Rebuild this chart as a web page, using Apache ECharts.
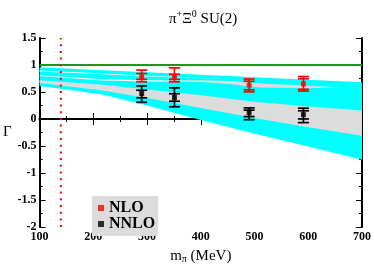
<!DOCTYPE html>
<html><head><meta charset="utf-8">
<script src="https://cdn.jsdelivr.net/npm/echarts@6/dist/echarts.min.js"></script>
<style>html,body{margin:0;padding:0;background:#fff}#c{width:374px;height:269px}</style>
</head><body><div id="c"></div>
<script>
// ---- data ----
const xTicks = [100, 200, 300, 400, 500, 600, 700];
const yTicks = [-2, -1.5, -1, -0.5, 0, 0.5, 1, 1.5];

const mPi = [290, 351, 490, 591];
// NLO (red)
const nloVal     = [0.78, 0.79, 0.628, 0.651];
const nloOuterHi = [0.906, 0.948, 0.74, 0.787];
const nloOuterLo = [0.69, 0.689, 0.504, 0.518];
const nloInnerHi = [0.842, 0.829, 0.70, 0.745];
const nloInnerLo = [0.735, 0.735, 0.54, 0.55];
// NNLO (black)
const nnloVal     = [0.471, 0.40, 0.117, 0.082];
const nnloOuterHi = [0.613, 0.577, 0.206, 0.201];
const nnloOuterLo = [0.31, 0.227, -0.012, -0.066];
const nnloInnerHi = [0.533, 0.468, 0.165, 0.153];
const nnloInnerLo = [0.393, 0.33, 0.046, 0.002];

// error bands
const bandX      = [100, 217, 300, 400, 500, 600, 700];
const cyanTop    = [0.96, 0.905, 0.866, 0.82, 0.773, 0.727, 0.68];
const cyanBottom = [0.61, 0.455, 0.25, -0.02, -0.27, -0.51, -0.755];
const greyTop    = [0.72, 0.635, 0.545, 0.44, 0.32, 0.23, 0.16];
const greyBottom = [0.665, 0.53, 0.39, 0.205, 0.02, -0.15, -0.31];
const gap1X      = [100, 217, 310, 440];
const gap1Top    = [0.90, 0.842, 0.795, 0.745];
const gap1Bottom = [0.882, 0.828, 0.783, 0.745];
const gap2X      = [100, 217, 300, 330];
const gap2Top    = [0.81, 0.735, 0.72, 0.718];
const gap2Bottom = [0.795, 0.715, 0.695, 0.69];
const sliverX      = [330, 400, 456, 511, 601, 663];
const sliverTop    = [0.718, 0.72, 0.705, 0.66, 0.615, 0.585];
const sliverBottom = [0.69, 0.685, 0.645, 0.585, 0.57, 0.585];

const physMpi = 139.57;
const unitLine = 1;

// ---- chart ----
const CYAN = '#00ffff', GREY = '#dcdcdc', RED = '#ff0000';
const SERIF = 'Liberation Serif';

function bandSeries(xs, top, bot, color, z) {
  return {
    type: 'custom', silent: true, z: z, clip: true,
    data: [[xs[0], top[0]]],
    renderItem: function (params, api) {
      const pts = [];
      for (let i = 0; i < xs.length; i++) pts.push(api.coord([xs[i], top[i]]));
      for (let i = xs.length - 1; i >= 0; i--) pts.push(api.coord([xs[i], bot[i]]));
      return { type: 'polygon', shape: { points: pts }, style: { fill: color } };
    }
  };
}

function errSeries(color, oLo, oHi, iLo, iHi) {
  return {
    type: 'custom', silent: true, z: 5,
    data: mPi.map((m, i) => [m, oLo[i], oHi[i], iLo[i], iHi[i]]),
    encode: { x: 0, y: [1, 2, 3, 4] },
    renderItem: function (params, api) {
      const x = api.value(0);
      const a = api.coord([x, api.value(1)]);
      const b = api.coord([x, api.value(2)]);
      const c = api.coord([x, api.value(3)]);
      const d = api.coord([x, api.value(4)]);
      const hw = 5.5, st = { stroke: color, lineWidth: 1.7 };
      const cap = p => ({ type: 'line', shape: { x1: p[0] - hw, y1: p[1], x2: p[0] + hw, y2: p[1] }, style: st });
      return {
        type: 'group', children: [
          { type: 'line', shape: { x1: a[0], y1: a[1], x2: b[0], y2: b[1] }, style: st },
          cap(a), cap(b), cap(c), cap(d)
        ]
      };
    }
  };
}

const chart = echarts.init(document.getElementById('c'), null, { renderer: 'canvas' });
const axisLabelStyle = { fontFamily: SERIF, fontWeight: 'bold', fontSize: 12, color: '#000' };
chart.setOption({
  animation: false,
  backgroundColor: '#fff',
  title: {
    text: '{a|π}{s|+}{a|Ξ}{s|0}{a| SU(2)}',
    left: 164, top: 4,
    textStyle: {
      fontWeight: 'normal',
      rich: {
        a: { fontFamily: SERIF, fontWeight: 'normal', fontSize: 15, color: '#000', lineHeight: 18, verticalAlign: 'bottom' },
        s: { fontFamily: SERIF, fontWeight: 'normal', fontSize: 10, color: '#000', lineHeight: 18, verticalAlign: 'top', padding: [0, 0, 6, 0] }
      }
    }
  },
  legend: {
    data: [{ name: 'NLO', itemStyle: { color: RED } }, { name: 'NNLO', itemStyle: { color: '#000' } }],
    orient: 'vertical', left: 92, top: 196,
    backgroundColor: GREY, padding: [4, 3, 4, 6],
    itemWidth: 6, itemHeight: 6, itemGap: 0, icon: 'rect',
    textStyle: { fontFamily: SERIF, fontWeight: 'bold', fontSize: 16, color: '#000', lineHeight: 14 }
  },
  grid: { left: 36, right: 11, top: 38, bottom: 34 },
  xAxis: [{
    type: 'value', min: xTicks[0], max: xTicks[xTicks.length - 1], interval: 100,
    name: '{a|m}{s|π}{a| (MeV)}', nameLocation: 'middle', nameGap: 14,
    nameTextStyle: {
      rich: {
        a: { fontFamily: SERIF, fontSize: 15, color: '#000', lineHeight: 16 },
        s: { fontFamily: SERIF, fontSize: 10, color: '#000', lineHeight: 16, verticalAlign: 'bottom', padding: [6, 0, 0, 0] }
      }
    },
    axisLine: { lineStyle: { color: '#000', width: 2 } },
    axisTick: { inside: true, length: 6, lineStyle: { color: '#000', width: 1 } },
    minorTick: { show: true, splitNumber: 2, length: 3, lineStyle: { color: '#000', width: 1 } },
    axisLabel: Object.assign({ margin: 4, formatter: v => xTicks.includes(v) ? String(v) : '' }, axisLabelStyle),
    splitLine: { show: false }
  }, {
    type: 'value', position: 'top', min: xTicks[0], max: xTicks[xTicks.length - 1], interval: 100,
    axisLine: { lineStyle: { color: '#000', width: 2 } },
    axisTick: { inside: true, length: 6, lineStyle: { color: '#000', width: 1 } },
    minorTick: { show: true, splitNumber: 2, length: 3, lineStyle: { color: '#000', width: 1 } },
    axisLabel: { show: false }, splitLine: { show: false }
  }],
  yAxis: [{
    type: 'value', min: yTicks[0], max: yTicks[yTicks.length - 1], interval: 0.5,
    name: 'Γ', nameLocation: 'middle', nameGap: 20, nameRotate: 0,
    nameTextStyle: { fontFamily: SERIF, fontSize: 15, color: '#000' },
    axisLine: { lineStyle: { color: '#000', width: 2 } },
    axisTick: { inside: true, length: 6, lineStyle: { color: '#000', width: 1 } },
    minorTick: { show: true, splitNumber: 2, length: 3, lineStyle: { color: '#000', width: 1 } },
    axisLabel: Object.assign({ margin: 3, formatter: v => String(v) }, axisLabelStyle),
    splitLine: { show: false }
  }, {
    type: 'value', position: 'right', min: yTicks[0], max: yTicks[yTicks.length - 1], interval: 0.5,
    axisLine: { lineStyle: { color: '#000', width: 2 } },
    axisTick: { inside: true, length: 6, lineStyle: { color: '#000', width: 1 } },
    minorTick: { show: true, splitNumber: 2, length: 3, lineStyle: { color: '#000', width: 1 } },
    axisLabel: { show: false }, splitLine: { show: false }
  }],
  series: [
    bandSeries(bandX, cyanTop, cyanBottom, CYAN, 1),
    bandSeries(bandX, greyTop, greyBottom, GREY, 2),
    bandSeries(gap1X, gap1Top, gap1Bottom, '#ffffff', 2),
    bandSeries(gap2X, gap2Top, gap2Bottom, '#ffffff', 2),
    bandSeries(sliverX, sliverTop, sliverBottom, GREY, 2),
    {
      type: 'line', silent: true, z: 3, symbol: 'none',
      data: [[xTicks[0], unitLine], [xTicks[xTicks.length - 1], unitLine]],
      lineStyle: { color: '#1e961e', width: 2 }
    },
    {
      type: 'line', silent: true, z: 3, symbol: 'none',
      data: [[physMpi, yTicks[0]], [physMpi, yTicks[yTicks.length - 1]]],
      lineStyle: { color: RED, width: 2, type: [2, 4.7] }
    },
    errSeries(RED, nloOuterLo, nloOuterHi, nloInnerLo, nloInnerHi),
    errSeries('#000', nnloOuterLo, nnloOuterHi, nnloInnerLo, nnloInnerHi),
    {
      name: 'NLO', type: 'scatter', z: 6, symbol: 'rect', symbolSize: 5,
      itemStyle: { color: RED },
      data: mPi.map((m, i) => [m, nloVal[i]])
    },
    {
      name: 'NNLO', type: 'scatter', z: 6, symbol: 'rect', symbolSize: 5,
      itemStyle: { color: '#000' },
      data: mPi.map((m, i) => [m, nnloVal[i]])
    }
  ]
});
</script></body></html>
